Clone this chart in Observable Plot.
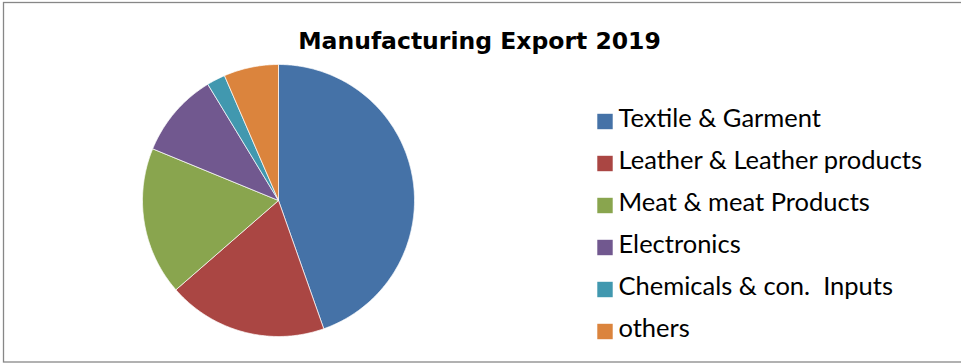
<!DOCTYPE html>
<html>
<head>
<meta charset="utf-8">
<script src="https://cdn.jsdelivr.net/npm/d3@7"></script>
<script src="https://cdn.jsdelivr.net/npm/@observablehq/plot@0.6"></script>
<style>
  html, body { margin: 0; padding: 0; background: white; }
  #chart svg { display: block; }
</style>
</head>
<body>
<div id="chart"></div>
<script>
// ---- data ----
const title = "Manufacturing Export 2019";
const categories = [
  "Textile & Garment",
  "Leather & Leather products",
  "Meat & meat Products",
  "Electronics",
  "Chemicals & con.  Inputs",
  "others"
];
const shares = [44.6, 19.0, 17.6, 10.1, 2.2, 6.5];
const colors = ["#4572A7", "#AA4643", "#89A54E", "#71588F", "#4198AF", "#DB843D"];

// ---- layout ----
const PIE = {cx: 278, cy: 200, r: 136};
const TITLE_POS = {x: 479, y: 40.5};
const LEGEND = {swatchX: 604.5, textX: 618, top: 121, bottom: 331};
const legendY = d3.scalePoint(categories, [LEGEND.top, LEGEND.bottom]);

const rows = categories.map((cat, i) => ({cat, share: shares[i]}));
const arcs = d3.pie().sort(null).value(d => d.share)(rows);
const piePts = [];
for (const a of arcs) {
  const cat = a.data.cat;
  piePts.push({cat, x: PIE.cx, y: PIE.cy});
  const n = Math.max(2, Math.ceil((a.endAngle - a.startAngle) / (Math.PI / 360)));
  for (let k = 0; k <= n; k++) {
    const t = a.startAngle + (a.endAngle - a.startAngle) * k / n;
    piePts.push({cat, x: PIE.cx + PIE.r * Math.sin(t), y: PIE.cy - PIE.r * Math.cos(t)});
  }
  piePts.push({cat, x: PIE.cx, y: PIE.cy});
}

const chart = Plot.plot({
  width: 961,
  height: 364,
  margin: 0,
  style: {fontFamily: "Lato, sans-serif", background: "white", color: "black"},
  x: {type: "identity", axis: null},
  y: {type: "identity", axis: null},
  color: {domain: categories, range: colors},
  marks: [
    Plot.frame({stroke: "#878787", strokeWidth: 1.3, insetLeft: 3, insetTop: 2, insetBottom: 2.5, insetRight: -10}),
    Plot.line(piePts, {x: "x", y: "y", z: "cat", fill: "cat", stroke: "white", strokeWidth: 0.7, strokeLinejoin: "round"}),
    Plot.text([title], {x: () => TITLE_POS.x, y: () => TITLE_POS.y, text: d => d, textAnchor: "middle",
      fontSize: 23.5, fontWeight: "bold", fontFamily: "'DejaVu Sans', sans-serif", fill: "black"}),
    Plot.dot(categories, {x: () => LEGEND.swatchX, y: d => legendY(d), fill: d => d, symbol: "square", r: 8.7}),
    Plot.text(categories, {x: () => LEGEND.textX, y: d => legendY(d), dy: -2.5, text: d => d, textAnchor: "start",
      fontSize: 25.5, fill: "black"})
  ]
});
document.getElementById("chart").appendChild(chart);
</script>
</body>
</html>
